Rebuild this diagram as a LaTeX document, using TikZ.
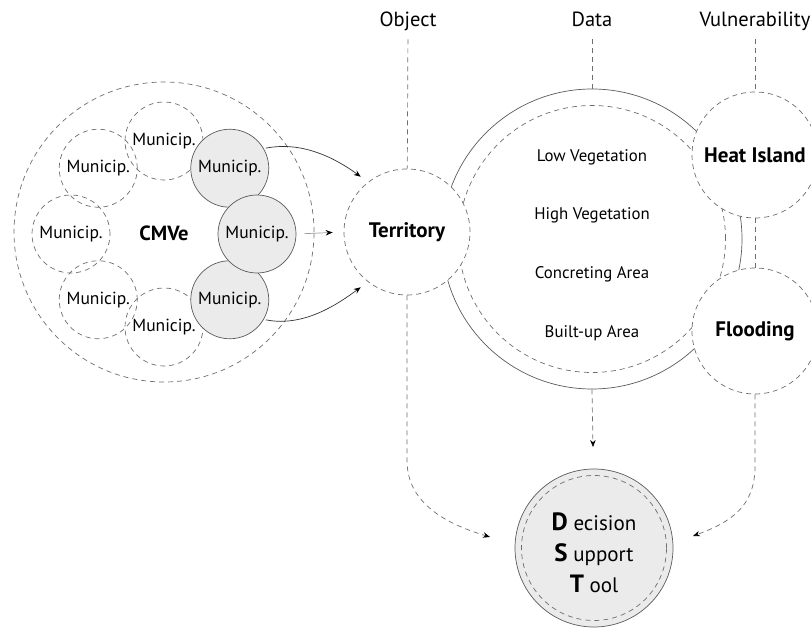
\documentclass[tikz,border=0pt]{standalone}
\usepackage{fontspec}
\setmainfont{PT Sans}
\usetikzlibrary{arrows.meta}

\definecolor{linegray}{HTML}{6E6E6E}
\definecolor{edgegray}{HTML}{5A5A5A}
\definecolor{fillgray}{HTML}{EBEBEB}

\begin{document}
\begin{tikzpicture}[x=1pt,y=-1pt,inner sep=0pt,line width=0.7pt,
        ring/.style={circle,draw=linegray,dash pattern=on 5pt off 4pt},
        town/.style={ring,minimum size=78pt,font=\fontsize{17.5}{20}\selectfont},
        hub/.style={circle,draw=edgegray,fill=fillgray,minimum size=78pt,font=\fontsize{17.5}{20}\selectfont},
        theme/.style={ring,fill=white,minimum size=126pt,font=\bfseries\fontsize{21}{25}\selectfont},
        lbl/.style={font=\fontsize{20.5}{24}\selectfont,text height=15pt,text depth=5pt},
        item/.style={font=\fontsize{16.8}{19}\selectfont},
        link/.style={draw=linegray,dash pattern=on 5pt off 4pt},
        flow/.style={link,-{Stealth[length=7pt,width=5.5pt,color=black]}},
        feed/.style={draw=black!80,-{Stealth[length=7pt,width=5.5pt,color=black]}}]
        % \draw[help lines] (0,0) grid[step=50] (811,628);
        \useasboundingbox (0,0) rectangle (811,628);
        % CMVe and its municipalities
        \node[ring,minimum size=300pt] (cmve) at (164,232) {};
        \node[font=\bfseries\fontsize{20.5}{24}\selectfont] (cmvelbl) at (164,233) {CMVe};
        \begin{scope}[shift={(164,234)}]
        \foreach \a/\n in {90/a,135/b,180/c,225/d,270/e}
            \node[town] (m\n) at (\a:93) {Municip.};
        \node[hub] (mt) at (-45:93) {Municip.};
        \node[hub] (mb) at (45:93) {Municip.};
        \node[hub] (mm) at (0:93) {Municip.};
        \end{scope}
        % data
        \node[circle,draw=edgegray,minimum size=300pt] (data) at (592,239) {};
        \node[ring,minimum size=267pt] (datain) at (592,239) {};
        \foreach \t [count=\i] in {Low Vegetation,High Vegetation,Concreting Area,Built-up Area}
            \node[item] (layer\i) at (592,{98.3+58.7*\i}) {\t};
        \node[theme] (terr) at (407,232) {Territory};
        \node[theme] (heat) at (755,155) {Heat Island};
        \node[theme] (flood) at (755,331) {Flooding};
        \node[lbl] (object) at (408,22) {Object};
        \node[lbl] (datalbl) at (592,22) {Data};
        \node[lbl] (vuln) at (755,22) {Vulnerability};
        \draw[link,shorten <=7pt] (object) -- (terr);
        \draw[link,shorten <=7pt] (datalbl) -- (data);
        \draw[link,shorten <=7pt] (vuln) -- (heat);
        \draw[link] (heat) -- (flood);
        % municipalities feed the territory
        \draw[feed,shorten <=2pt,shorten >=9pt] (mt.30) .. controls +(40,-8) and +(-30,-22) .. (terr.128);
        \draw[feed,shorten <=2pt,shorten >=9pt] (mb.-30) .. controls +(40,8) and +(-30,22) .. (terr.-128);
        \draw[feed,draw=black!40,shorten <=8pt,shorten >=11pt] (mm.east) -- (terr.west);
        % decision support tool
        \node[circle,draw=edgegray,fill=fillgray,minimum size=158pt] (dst) at (594,548) {};
        \node[ring,minimum size=145pt] (dstin) at (dst.center) {};
        \node[align=center,font=\fontsize{21}{31}\selectfont] (dsttxt) at (594,553)
            {{\bfseries\fontsize{25}{31}\selectfont D} ecision\\
             {\bfseries\fontsize{25}{31}\selectfont S} upport\\
             {\bfseries\fontsize{25}{31}\selectfont T} ool};
        \coordinate (dstl) at (490,537);
        \coordinate (dstt) at (593,447);
        \coordinate (dstr) at (693,536);
        \draw[flow] (terr.south) -- ++(0,165) .. controls +(0,45) and +(-40,-12) .. (dstl);
        \draw[flow] (data.south) -- (dstt);
        \draw[flow] (flood.south) -- ++(0,72) .. controls +(0,40) and +(38,-14) .. (dstr);
\end{tikzpicture}
\end{document}
